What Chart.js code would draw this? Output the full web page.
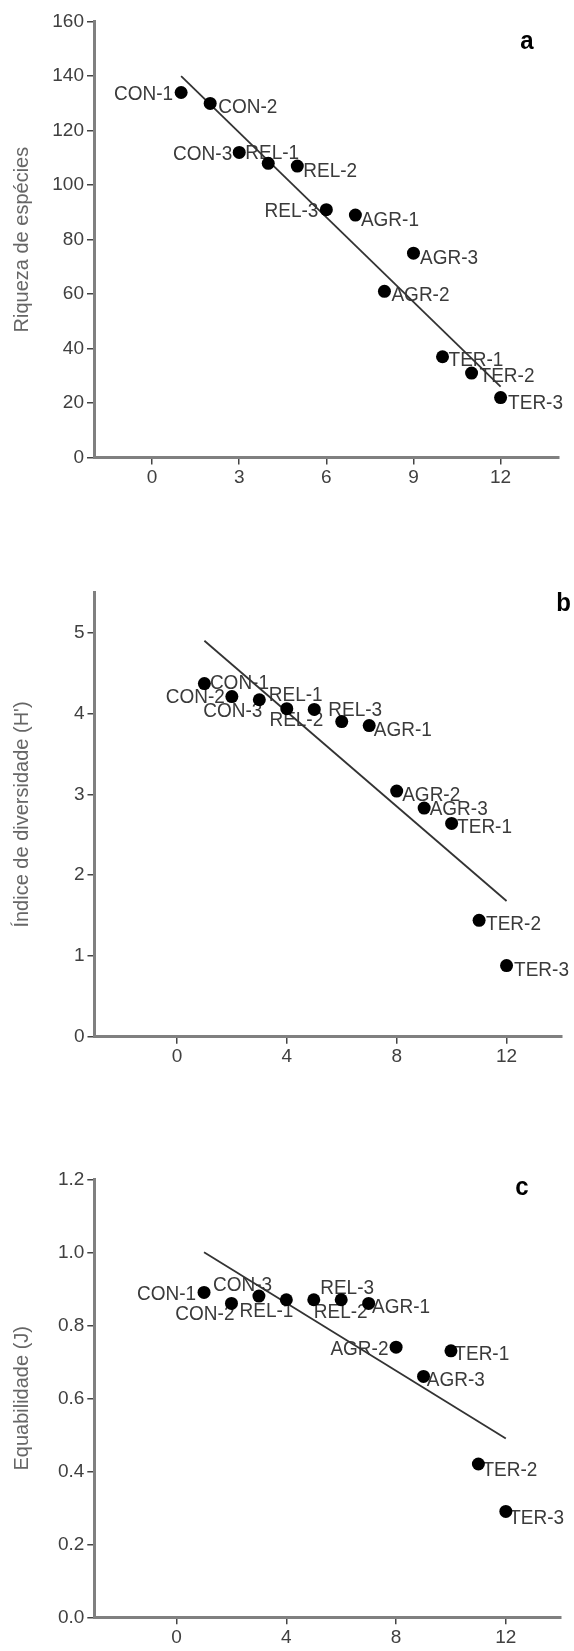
<!DOCTYPE html>
<html><head><meta charset="utf-8">
<script src="https://cdn.jsdelivr.net/npm/chart.js@4.4.0/dist/chart.umd.min.js"></script>
<style>
html,body{margin:0;padding:0;background:#fff;}
body{width:574px;height:1651px;position:relative;overflow:hidden;}
.box{position:absolute;left:0;width:574px;}
canvas{display:block;}
</style></head><body>
<div class="box" style="top:0;height:500px"><canvas id="ca" width="574" height="500"></canvas></div>
<div class="box" style="top:560px;height:520px"><canvas id="cb" width="574" height="520"></canvas></div>
<div class="box" style="top:1140px;height:511px"><canvas id="cc" width="574" height="511"></canvas></div>
<script>
// ---- data ----
const sites = ['CON-1','CON-2','CON-3','REL-1','REL-2','REL-3','AGR-1','AGR-2','AGR-3','TER-1','TER-2','TER-3'];
const gradient = [1,2,3,4,5,6,7,8,9,10,11,12];
const richness = [134,130,112,108,107,91,89,61,75,37,31,22];
const diversity = [4.37,4.21,4.17,4.06,4.05,3.90,3.85,3.04,2.83,2.64,1.44,0.88];
const evenness = [0.89,0.86,0.88,0.87,0.87,0.87,0.86,0.74,0.66,0.73,0.42,0.29];
const fitX = [1,12];
const fitRichness = [140,26];
const fitDiversity = [4.90,1.68];
const fitEvenness = [1.00,0.49];
const xTicksA = [0,3,6,9,12];
const xTicksBC = [0,4,8,12];
const yTicksA = [0,20,40,60,80,100,120,140,160];
const yTicksB = [0,1,2,3,4,5];
const yTicksC = [0,0.2,0.4,0.6,0.8,1.0,1.2];

// ---- label placement (layout only) ----
const offA = [['right',-8,2],['left',8,4],['right',-7,1.5],['left',-23,-10],['left',6,5.5],['right',-8,2],
  ['left',5.5,5],['left',7,4],['left',6.6,5],['left',6,3.5],['left',8,3.5],['left',7.5,5.7]];
const offB = [['left',5.5,0],['right',-7,1],['right',3,11],['left',-18,-13],['right',9,11],['left',-13.5,-11],
  ['left',4.5,5],['left',5.5,4],['left',5.5,1.3],['left',5.5,4],['left',7,4],['left',7.5,4.5]];
const offC = [['right',-8,2],['right',3,11],['left',-46,-11],['right',7,11],['left',0,12],['left',-21,-12],
  ['left',3.3,4],['right',-7.6,2],['left',3.3,3.6],['left',3.4,3.6],['left',4,6.5],['left',3.3,6.5]];

const FAM = '"Liberation Sans", Arial, Helvetica, sans-serif';
const STRETCH = 1.1;

function makeChart(id, c){
  const pts = gradient.map((g,i)=>({x:g, y:c.values[i]}));
  const fit = fitX.map((g,i)=>({x:g, y:c.fit[i]}));
  const plugin = {
    id:'ptlabels_'+id,
    beforeDatasetsDraw(chart){
      const {ctx, scales:{x,y}} = chart;
      ctx.save();
      ctx.font = '19px ' + FAM;
      ctx.fillStyle = '#3a3a3a';
      ctx.textBaseline = 'middle';
      sites.forEach((n,i)=>{
        const [al,dx,dy] = c.offsets[i];
        const tx = x.getPixelForValue(gradient[i])+dx;
        const ty = y.getPixelForValue(c.values[i])+dy;
        ctx.save();
        ctx.translate(tx, ty);
        ctx.scale(1, STRETCH);
        ctx.textAlign = al;
        ctx.fillText(n, 0, 0);
        ctx.restore();
      });
      ctx.font = 'bold 24px ' + FAM;
      ctx.fillStyle = '#000';
      ctx.textAlign = 'center';
      ctx.translate(c.letterX, c.letterY);
      ctx.scale(1, STRETCH);
      ctx.fillText(c.letter, 0, 0);
      ctx.restore();
    }
  };
  const tickFont = {family:FAM, size:19};
  return new Chart(document.getElementById(id), {
    data:{datasets:[
      {type:'scatter', data:pts, backgroundColor:'#000', borderWidth:0, pointRadius:6.5, pointHoverRadius:6.5, order:0},
      {type:'line', data:fit, borderColor:'#333', borderWidth:1.8, pointRadius:0, fill:false, tension:0, order:1}
    ]},
    options:{
      responsive:false, animation:false, events:[],
      layout:{padding:{left:0, top:c.padTop, right:c.padRight, bottom:0}},
      plugins:{legend:{display:false}, tooltip:{enabled:false}},
      scales:{
        x:{type:'linear', min:c.xMin, max:c.xMax,
          afterBuildTicks:s=>{s.ticks = c.xTicks.map(v=>({value:v}));},
          afterFit:s=>{s.height = c.xAxisH;},
          border:{display:true, color:'#808080', width:3},
          grid:{display:true, drawOnChartArea:false, drawTicks:true, tickLength:7, color:'#444', lineWidth:1.5},
          ticks:{color:'#404040', font:tickFont, padding:2, maxRotation:0, autoSkip:false}
        },
        y:{type:'linear', min:c.yMin, max:c.yMax,
          afterBuildTicks:s=>{s.ticks = c.yTicks.map(v=>({value:v}));},
          afterFit:s=>{s.width = c.yAxisW;},
          border:{display:true, color:'#808080', width:3},
          grid:{display:true, drawOnChartArea:false, drawTicks:true, tickLength:7, color:'#444', lineWidth:1.5},
          ticks:{color:'#404040', font:tickFont, padding:3, autoSkip:false, callback:c.yFmt},
          title:{display:true, text:c.title, color:'#666', font:{family:FAM, size:20}, padding:{top:10, bottom:0}}
        }
      }
    },
    plugins:[plugin]
  });
}

makeChart('ca', {values:richness, fit:fitRichness, xMin:-2, xMax:14, xTicks:xTicksA,
  yMin:0, yMax:160, yTicks:yTicksA, yFmt:v=>String(v), title:'Riqueza de espécies',
  offsets:offA, letter:'a', letterX:527, letterY:42, padTop:21.7, padRight:15.3, xAxisH:42.5, yAxisW:94});
makeChart('cb', {values:diversity, fit:fitDiversity, xMin:-3, xMax:14, xTicks:xTicksBC,
  yMin:0, yMax:5.5, yTicks:yTicksB, yFmt:v=>String(v), title:"Índice de diversidade (H')",
  offsets:offB, letter:'b', letterX:563.5, letterY:44, padTop:32.3, padRight:12.5, xAxisH:43.3, yAxisW:94.5});
makeChart('cc', {values:evenness, fit:fitEvenness, xMin:-3, xMax:14, xTicks:xTicksBC,
  yMin:0, yMax:1.2, yTicks:yTicksC, yFmt:v=>v.toFixed(1), title:'Equabilidade (J)',
  offsets:offC, letter:'c', letterX:522, letterY:48, padTop:39.3, padRight:13.3, xAxisH:33.7, yAxisW:94.3});
</script>
</body></html>
